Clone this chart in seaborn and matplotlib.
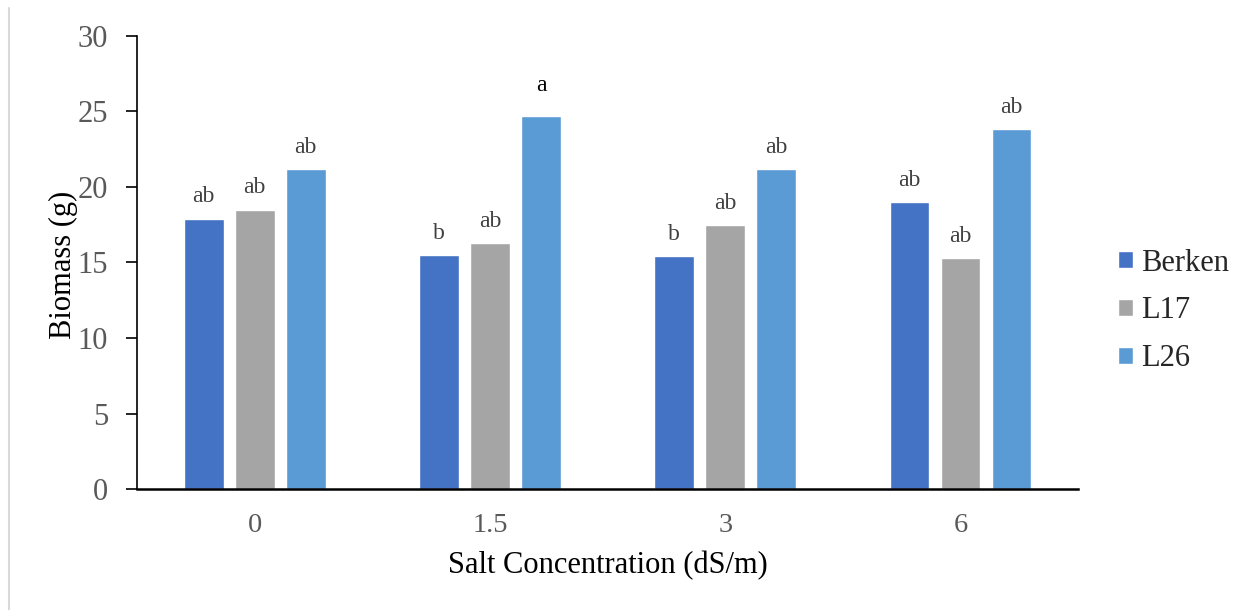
import matplotlib
matplotlib.use("Agg")
import matplotlib.pyplot as plt
from matplotlib.lines import Line2D
import seaborn as sns
import pandas as pd

concentrations = ["0", "1.5", "3", "6"]
genotypes = ["Berken", "L17", "L26"]
berken = [17.9, 15.5, 15.4, 19.0]
l17 = [18.5, 16.3, 17.5, 15.3]
l26 = [21.2, 24.7, 21.2, 23.8]
letters_berken = ["ab", "b", "b", "ab"]
letters_l17 = ["ab", "ab", "ab", "ab"]
letters_l26 = ["ab", "a", "ab", "ab"]
colors = ["#4472C4", "#A5A5A5", "#5B9BD5"]

rows = []
for g, vals, lets in zip(genotypes, [berken, l17, l26], [letters_berken, letters_l17, letters_l26]):
    for c, v, l in zip(concentrations, vals, lets):
        rows.append({"Salt": c, "Genotype": g, "Biomass": v, "Letter": l})
df = pd.DataFrame(rows)

sns.set_style("white")
plt.rcParams['font.family'] = ['Liberation Serif', 'DejaVu Serif']

fig = plt.figure(figsize=(12.35, 6.1), dpi=100)
ax = fig.add_axes([0.111, 0.198, 0.762, 0.7435])

sns.barplot(data=df, x="Salt", y="Biomass", hue="Genotype", order=concentrations,
            hue_order=genotypes, palette=colors, width=0.65, gap=0.22,
            saturation=1, ax=ax, errorbar=None)

ax.set_ylim(0, 30)
ax.set_yticks([0, 5, 10, 15, 20, 25, 30])
for s in ["top", "right"]:
    ax.spines[s].set_visible(False)
ax.spines["left"].set_color("black")
ax.spines["bottom"].set_color("black")
ax.spines["left"].set_linewidth(1.2)
ax.spines["bottom"].set_linewidth(1.8)
ax.tick_params(axis="y", which="both", left=True, direction="out", length=8, width=1.2,
               color="black", labelsize=22, labelcolor="#595959", pad=13)
ax.tick_params(axis="x", bottom=False, length=0, labelsize=20.5, labelcolor="#595959", pad=17)

ax.set_xlabel("Salt Concentration (dS/m)", fontsize=22, color="black")
ax.set_ylabel("Biomass (g)", fontsize=22, color="black")
ax.xaxis.set_label_coords(0.5, -0.135)
ax.yaxis.set_label_coords(-0.063, 0.495)

for container, g in zip(ax.containers, genotypes):
    sub = df[df["Genotype"] == g].set_index("Salt").loc[concentrations]
    for bar, lab in zip(container, sub["Letter"]):
        x = bar.get_x() + bar.get_width() / 2
        h = bar.get_height()
        col = "black" if lab == "a" else "#404040"
        off = 14 if lab == "a" else 8
        ax.annotate(lab, (x, h), xytext=(0, off), textcoords="offset points",
                    ha="center", va="bottom", fontsize=17, color=col)

leg = ax.legend(loc="center left", bbox_to_anchor=(1118 / 1235, 1 - 311 / 610),
                bbox_transform=fig.transFigure, frameon=False, borderpad=0, borderaxespad=0,
                fontsize=22, handlelength=0.5, handleheight=0.5, handletextpad=0.25,
                labelspacing=0.62)

fig.add_artist(Line2D([8.5 / 1235, 8.5 / 1235], [0, 1 - 8 / 610], transform=fig.transFigure,
                      color="#d9d9d9", linewidth=1.5))

fig.savefig("out.png", dpi=100, facecolor="white")
